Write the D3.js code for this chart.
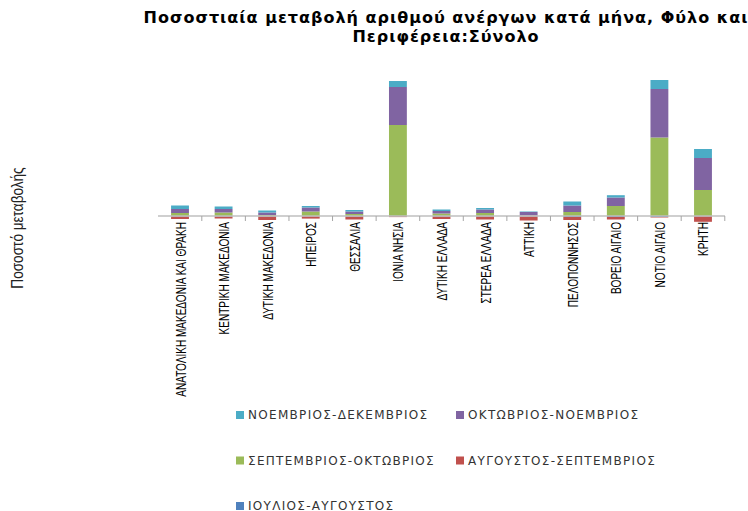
<!DOCTYPE html>
<html>
<head>
<meta charset="utf-8">
<script src="https://cdn.jsdelivr.net/npm/d3@7"></script>
<style>
  body { margin: 0; background: #fff; }
  svg { display: block; }
</style>
</head>
<body>
<svg id="chart" width="748" height="511"></svg>
<script>
// regions along the x axis
const regions = [
  "ΑΝΑΤΟΛΙΚΗ ΜΑΚΕΔΟΝΙΑ ΚΑΙ ΘΡΑΚΗ", "ΚΕΝΤΡΙΚΗ ΜΑΚΕΔΟΝΙΑ", "ΔΥΤΙΚΗ ΜΑΚΕΔΟΝΙΑ",
  "ΗΠΕΙΡΟΣ", "ΘΕΣΣΑΛΙΑ", "ΙΟΝΙΑ ΝΗΣΙΑ", "ΔΥΤΙΚΗ ΕΛΛΑΔΑ", "ΣΤΕΡΕΑ ΕΛΛΑΔΑ",
  "ΑΤΤΙΚΗ", "ΠΕΛΟΠΟΝΝΗΣΟΣ", "ΒΟΡΕΙΟ ΑΙΓΑΙΟ", "ΝΟΤΙΟ ΑΙΓΑΙΟ", "ΚΡΗΤΗ"
];
const seriesNames = [
  "ΙΟΥΛΙΟΣ-ΑΥΓΟΥΣΤΟΣ", "ΑΥΓΟΥΣΤΟΣ-ΣΕΠΤΕΜΒΡΙΟΣ", "ΣΕΠΤΕΜΒΡΙΟΣ-ΟΚΤΩΒΡΙΟΣ",
  "ΟΚΤΩΒΡΙΟΣ-ΝΟΕΜΒΡΙΟΣ", "ΝΟΕΜΒΡΙΟΣ-ΔΕΚΕΜΒΡΙΟΣ"
];
const colors = ["#4f81bd", "#c0504d", "#9bbb59", "#8064a2", "#4bacc6"];

// percentage change per period
const julAug = [-0.5, -0.5, -0.5, -0.3, -0.5, -0.3, -0.5, -0.5, -0.5, -1, -1, -1, -0.3];
const augSep = [-2.5, -2, -3.5, -2.3, -3, -0.8, -2.5, -3, -4, -3, -2.5, -0.5, -5.5];
const sepOct = [3, 3.5, 1, 4.5, 2, 91, 2.5, 3, 0.5, 4, 10, 78.5, 26];
const octNov = [4, 3.5, 2.5, 4, 2.5, 38, 2.5, 3.5, 3.5, 6.5, 8.5, 48.5, 32];
const novDec = [3.5, 2.5, 2, 1.5, 1.5, 6, 1.5, 1.5, 0.5, 4, 2.3, 9, 9];

const valueRows = [julAug, augSep, sepOct, octNov, novDec];
const table = regions.map((r, i) => {
  const row = { region: r };
  seriesNames.forEach((s, k) => { row[s] = valueRows[k][i]; });
  return row;
});

const svg = d3.select("#chart");

const x = d3.scaleBand().domain(regions).range([158, 725]).paddingInner(0.59).paddingOuter(0.3);
const y = d3.scaleLinear().domain([0, 140]).range([216, 76]);

const stacked = d3.stack().keys(seriesNames).offset(d3.stackOffsetDiverging)(table);

// bars
svg.append("g")
  .selectAll("g")
  .data(stacked)
  .join("g")
    .attr("fill", (d, i) => colors[i])
  .selectAll("rect")
  .data(d => d)
  .join("rect")
    .attr("x", d => x(d.data.region))
    .attr("width", x.bandwidth())
    .attr("y", d => y(Math.max(d[0], d[1])))
    .attr("height", d => Math.abs(y(d[0]) - y(d[1])));

// category axis
const step = x.step();
const axisG = svg.append("g");
axisG.append("line")
  .attr("x1", 158).attr("x2", 725)
  .attr("y1", y(0)).attr("y2", y(0))
  .attr("stroke", "#bfbfbf").attr("stroke-width", 1.5);
axisG.selectAll(".tick")
  .data(regions)
  .join("line")
    .attr("x1", d => x(d) + x.bandwidth() / 2 + step / 2)
    .attr("x2", d => x(d) + x.bandwidth() / 2 + step / 2)
    .attr("y1", y(0)).attr("y2", y(0) + 5)
    .attr("stroke", "#a6a6a6");

// labels squeezed along their length to look like a narrow face
axisG.selectAll(".lbl")
  .data(regions)
  .join("text")
    .attr("transform", d => `translate(${x(d) + x.bandwidth() / 2 + 5.5},222) rotate(-90) scale(0.67,1)`)
    .attr("text-anchor", "end")
    .attr("font-family", "'Liberation Sans', Arial, sans-serif")
    .attr("font-size", 15)
    .attr("fill", "#000")
    .text(d => d);

// y title
svg.append("text")
  .attr("transform", "translate(23,228) rotate(-90) scale(0.85,1)")
  .attr("text-anchor", "middle")
  .attr("font-family", "'Liberation Sans', Arial, sans-serif")
  .attr("font-size", 16)
  .attr("fill", "#222")
  .text("Ποσοστό μεταβολής");

// title
const title = svg.append("text")
  .attr("text-anchor", "middle")
  .attr("font-family", "'DejaVu Sans', sans-serif")
  .attr("font-weight", "bold")
  .attr("font-size", 16)
  .attr("letter-spacing", 1)
  .attr("fill", "#000");
title.append("tspan").attr("x", 446).attr("y", 23).text("Ποσοστιαία μεταβολή αριθμού ανέργων κατά μήνα, Φύλο και");
title.append("tspan").attr("x", 446).attr("y", 42).text("Περιφέρεια:Σύνολο");

// legend (reversed order, two columns)
const legendOrder = [4, 3, 2, 1, 0];
const legend = svg.append("g")
  .selectAll("g")
  .data(legendOrder)
  .join("g")
    .attr("transform", (k, i) => `translate(${i % 2 === 0 ? 236 : 456},${415 + Math.floor(i / 2) * 45.5})`);
legend.append("rect")
  .attr("x", 0).attr("y", -4)
  .attr("width", 8).attr("height", 8)
  .attr("fill", k => colors[k]);
legend.append("text")
  .attr("x", 12).attr("y", 4)
  .attr("font-family", "'DejaVu Sans', sans-serif")
  .attr("font-size", 12)
  .attr("letter-spacing", 1.3)
  .attr("fill", "#333")
  .text(k => seriesNames[k]);
</script>
</body>
</html>
